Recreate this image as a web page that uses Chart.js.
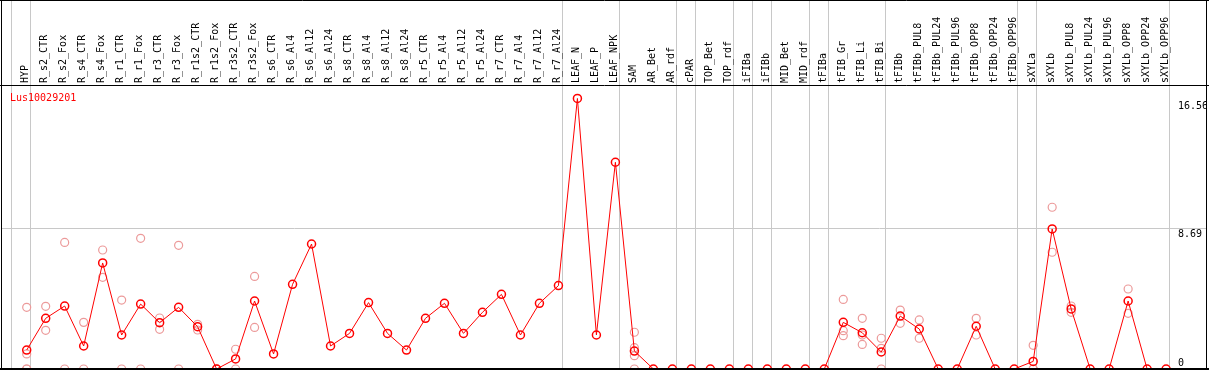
<!DOCTYPE html>
<html>
<head>
<meta charset="utf-8">
<script src="https://cdn.jsdelivr.net/npm/chart.js@4.4.1/dist/chart.umd.min.js"></script>
<style>
    html, body { margin: 0; padding: 0; background: #fff; }
</style>
</head>
<body>
<canvas id="expr-chart" width="1209" height="370"></canvas>
<script>
/* expression profile for one gene: means (line) + replicates (faded dots) */

var geneName = 'Lus10029201';

var samples = [
    'HYP', 'R_s2_CTR', 'R_s2_Fox', 'R_s4_CTR', 'R_s4_Fox', 'R_r1_CTR', 'R_r1_Fox',
    'R_r3_CTR', 'R_r3_Fox', 'R_r1s2_CTR', 'R_r1s2_Fox', 'R_r3s2_CTR', 'R_r3s2_Fox',
    'R_s6_CTR', 'R_s6_Al4', 'R_s6_Al12', 'R_s6_Al24', 'R_s8_CTR', 'R_s8_Al4',
    'R_s8_Al12', 'R_s8_Al24', 'R_r5_CTR', 'R_r5_Al4', 'R_r5_Al12', 'R_r5_Al24',
    'R_r7_CTR', 'R_r7_Al4', 'R_r7_Al12', 'R_r7_Al24', 'LEAF_N', 'LEAF_P', 'LEAF_NPK',
    'SAM', 'AR_Bet', 'AR_rdf', 'cPAR', 'TOP_Bet', 'TOP_rdf', 'iFIBa', 'iFIBb',
    'MID_Bet', 'MID_rdf', 'tFIBa', 'tFIB_Gr', 'tFIB_Li', 'tFIB_Bi', 'tFIBb',
    'tFIBb_PUL8', 'tFIBb_PUL24', 'tFIBb_PUL96', 'tFIBb_OPP8', 'tFIBb_OPP24', 'tFIBb_OPP96',
    'sXYLa', 'sXYLb', 'sXYLb_PUL8', 'sXYLb_PUL24', 'sXYLb_PUL96', 'sXYLb_OPP8',
    'sXYLb_OPP24', 'sXYLb_OPP96'
];

var means = [
    1.17, 3.13, 3.89, 1.42, 6.55, 2.10, 4.01, 2.86, 3.81, 2.61, 0, 0.62, 4.20,
    0.93, 5.23, 7.72, 1.42, 2.20, 4.10, 2.20, 1.17, 3.13, 4.06, 2.20, 3.50,
    4.61, 2.10, 4.06, 5.15, 16.71, 2.10, 12.77,
    1.11, 0, 0, 0, 0, 0, 0, 0, 0, 0, 0,
    2.88, 2.24, 1.05, 3.27, 2.47, 0, 0, 2.64, 0, 0,
    0.47, 8.65, 3.71, 0, 0, 4.20, 0, 0
];

var reps = [
    [3.81, 0.93, 0, 0], [3.87, 2.39], [7.82, 0], [2.88, 0], [7.35, 5.66], [4.26, 0],
    [8.07, 0], [3.15, 2.45], [7.64, 0], [2.76, 2.41], [0, 0], [1.22, 0], [5.72, 2.57],
    [], [], [], [], [], [], [], [], [], [], [], [], [], [], [], [], [], [], [],
    [2.27, 1.32, 0.82, 0], [], [], [], [], [], [], [], [], [], [],
    [4.30, 2.37, 2.06], [3.13, 2.10, 1.52], [1.90, 1.28, 0], [3.64, 2.82], [3.03, 1.90],
    [], [], [3.13, 2.10], [], [],
    [1.46, 0, 0], [9.99, 7.21], [3.89, 3.50], [], [], [4.94, 3.44], [], []
];

// last column index of each sample group (a divider is drawn just after it)
var groupEnds = [-1, 0, 28, 31, 34, 35, 37, 38, 39, 41, 42, 45, 52, 53, 60];

var yTicks = [0, 8.69, 16.56];

var monoFont = 'DejaVu Sans Mono';

function isDivider(v) {
    return Math.abs(v - Math.round(v)) > 0.01;
}

var meanPoints = means.map(function (v, i) { return { x: i, y: v }; });

var repPoints = [];
reps.forEach(function (list, i) {
    list.forEach(function (v) { repPoints.push({ x: i, y: v }); });
});

var xTickValues = samples.map(function (s, i) { return i; })
    .concat(groupEnds.map(function (e) { return e + 0.2; }))
    .sort(function (a, b) { return a - b; });

var framePlugin = {
    id: 'frame',
    afterDraw: function (chart) {
        var ctx = chart.ctx;
        var area = chart.chartArea;
        var w = chart.width;
        var h = chart.height;
        ctx.save();
        ctx.strokeStyle = '#000';
        ctx.lineWidth = 1;
        ctx.beginPath();
        ctx.moveTo(0, 0.5); ctx.lineTo(w, 0.5);
        ctx.moveTo(1.5, 0); ctx.lineTo(1.5, h);
        ctx.moveTo(w - 2.5, 0); ctx.lineTo(w - 2.5, h);
        ctx.moveTo(0, area.top - 0.5); ctx.lineTo(w, area.top - 0.5);
        ctx.stroke();
        ctx.lineWidth = 2;
        ctx.beginPath();
        ctx.moveTo(0, area.bottom); ctx.lineTo(w, area.bottom);
        ctx.stroke();

        ctx.fillStyle = '#ff0000';
        ctx.font = '10px "' + monoFont + '"';
        ctx.textBaseline = 'alphabetic';
        ctx.fillText(geneName, 10, area.top + 15);
        ctx.restore();
    }
};

new Chart(document.getElementById('expr-chart'), {
    type: 'line',
    data: {
        datasets: [
            {
                label: geneName,
                data: meanPoints,
                borderColor: '#ff0000',
                borderWidth: 1,
                tension: 0,
                pointRadius: 4,
                pointBorderWidth: 1.5,
                pointBorderColor: '#ff0000',
                pointBackgroundColor: 'rgba(0,0,0,0)',
                order: 0
            },
            {
                label: 'replicates',
                data: repPoints,
                showLine: false,
                pointRadius: 4,
                pointBorderWidth: 1.2,
                pointBorderColor: '#ec9a9a',
                pointBackgroundColor: 'rgba(0,0,0,0)',
                order: 1
            }
        ]
    },
    options: {
        responsive: false,
        animation: false,
        layout: { autoPadding: false, padding: { left: 2, right: 2, top: 0, bottom: 1 } },
        plugins: {
            legend: { display: false },
            tooltip: { enabled: false }
        },
        scales: {
            x: {
                type: 'linear',
                position: 'top',
                min: -1.3007,
                max: 60.31,
                afterBuildTicks: function (scale) {
                    scale.ticks = xTickValues.map(function (v) { return { value: v }; });
                },
                afterFit: function (scale) {
                    scale.height = 86;
                    scale.paddingLeft = 0;
                    scale.paddingRight = 0;
                },
                border: { display: false },
                grid: {
                    tickLength: 86,
                    lineWidth: 1,
                    color: function (c) {
                        return c.tick && isDivider(c.tick.value) ? '#c8c8c8' : 'rgba(0,0,0,0)';
                    }
                },
                ticks: {
                    autoSkip: false,
                    minRotation: 90,
                    maxRotation: 90,
                    padding: -83,
                    labelOffset: 11,
                    color: '#000',
                    font: { family: monoFont, size: 10 },
                    callback: function (value) {
                        return isDivider(value) ? '' : samples[Math.round(value)];
                    }
                }
            },
            y: {
                type: 'linear',
                position: 'right',
                min: 0,
                max: 17.48,
                afterBuildTicks: function (scale) {
                    scale.ticks = yTicks.map(function (v) { return { value: v }; });
                },
                afterFit: function (scale) {
                    scale.width = 35;
                    scale.paddingTop = 0;
                    scale.paddingBottom = 0;
                },
                border: { display: false },
                grid: {
                    tickLength: 35,
                    color: function (c) {
                        return c.tick && c.tick.value > 0 && c.tick.value < 10 ? '#c8c8c8' : 'rgba(0,0,0,0)';
                    }
                },
                ticks: {
                    padding: -29,
                    crossAlign: 'near',
                    color: '#000',
                    font: { family: monoFont, size: 10, lineHeight: 1.2 },
                    callback: function (value) {
                        // zero sits above its line, the others below
                        return value === 0 ? ['0', ''] : ['', String(value)];
                    }
                }
            }
        }
    },
    plugins: [framePlugin]
});
</script>
</body>
</html>
